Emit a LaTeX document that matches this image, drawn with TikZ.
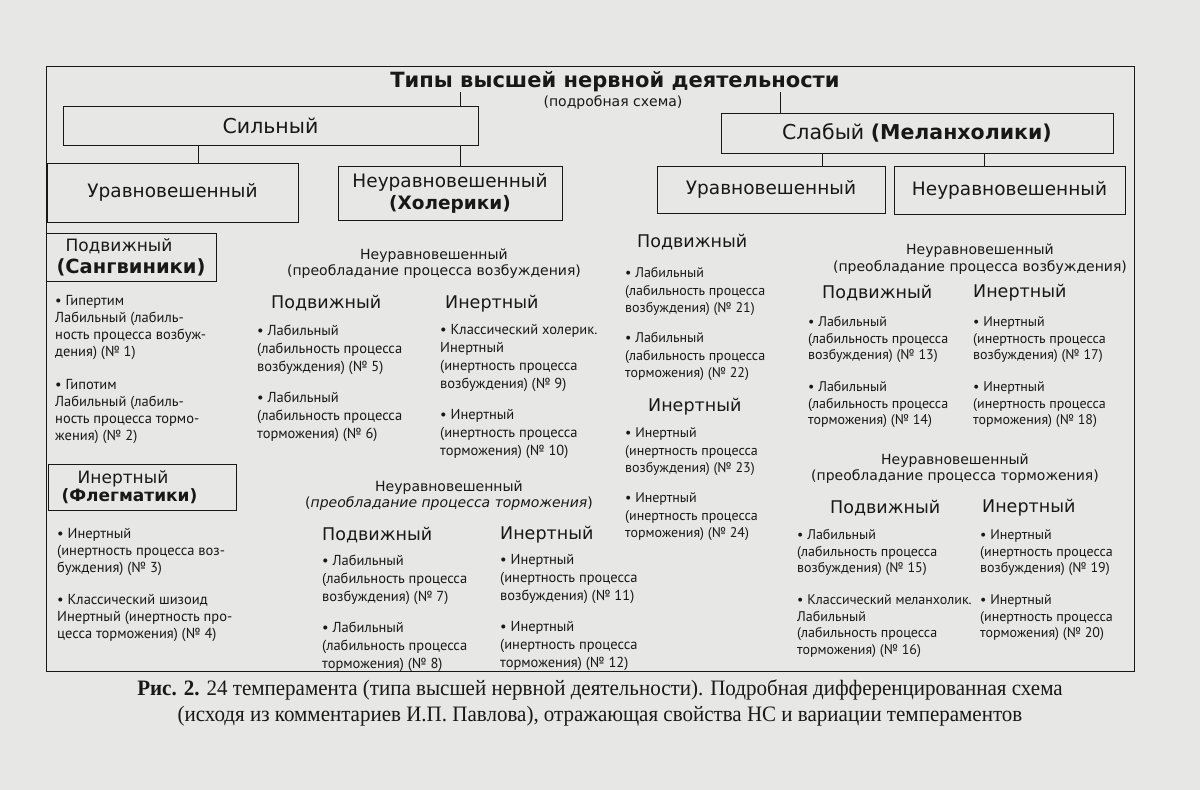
\documentclass[tikz,border=0pt]{standalone}
\usepackage{fontspec}
\usepackage{graphicx}
\setmainfont{DejaVu Sans}
\newfontfamily\hdrf{DejaVu Sans}
\newfontfamily\smf{PT Sans}
\newfontfamily\capf{Liberation Serif}
\definecolor{ink}{RGB}{24,24,24}
\definecolor{paper}{RGB}{231,231,229}
\begin{document}
\begin{tikzpicture}[x=1pt,y=-1pt,
 ln/.style={draw=ink,line width=1pt},
 bx/.style={draw=ink,line width=1pt,inner sep=0pt,align=center,text=ink,font=\hdrf\fontsize{18.5}{22}\selectfont},
 itm/.style={anchor=north west,inner sep=0pt,align=left,text=ink,font=\smf\fontsize{14}{17.5}\selectfont},
 itmL/.style={itm,font=\smf\fontsize{14.5}{16.8}\selectfont},
 itmM/.style={itm,font=\smf\fontsize{14.5}{18}\selectfont},
 itmR/.style={itm,font=\smf\fontsize{14}{16.5}\selectfont},
 hd/.style={anchor=west,inner sep=0pt,text=ink,font=\hdrf\fontsize{17.5}{20}\selectfont},
 sub/.style={inner sep=0pt,align=center,text=ink,font=\hdrf\fontsize{14}{16.5}\selectfont}]
\useasboundingbox (0,0) rectangle (1200,790);
\fill[paper] (0,0) rectangle (1200,790);
\draw[ln] (46,66) rectangle (1134,671);

% title
\node[inner sep=0pt,text=ink,font=\hdrf\bfseries\fontsize{21}{25}\selectfont] (tt) at (615,82) {Типы высшей нервной деятельности};
\node[inner sep=0pt,text=ink,font=\hdrf\fontsize{14}{17}\selectfont] (st) at (613,103) {(подробная схема)};

% main boxes
\node[bx,font=\hdrf\fontsize{20.5}{24}\selectfont,minimum width=415,minimum height=39] (sil) at (270.5,125.5) {Сильный};
\node[bx,minimum width=251,minimum height=59] (urv) at (172.5,192.5) {Уравновешенный};
\node[bx,minimum width=224,minimum height=54] (nur) at (450,193) {Неуравновешенный\\\textbf{(Холерики)}};
\node[bx,font=\hdrf\fontsize{20.5}{24}\selectfont,minimum width=392,minimum height=40] (slb) at (917,133) {Слабый \textbf{(Меланхолики)}};
\node[bx,minimum width=228,minimum height=47] (wurv) at (771,189.5) {Уравновешенный};
\node[bx,minimum width=231,minimum height=48] (wnur) at (1009.5,190) {Неуравновешенный};
\node[bx,font=\hdrf\fontsize{17}{22}\selectfont,minimum width=170,minimum height=48] (sang) at (131,257) {Подвижный\hspace*{24pt}\\{\fontsize{19.5}{22}\selectfont\bfseries (Сангвиники)}};
\node[bx,font=\hdrf\fontsize{17}{18}\selectfont,minimum width=188,minimum height=46] (fleg) at (142,487) {Инертный\hspace*{38pt}\\\textbf{(Флегматики)}\hspace*{25pt}};

% connectors
\coordinate (c0) at (460,0);
\coordinate (c1) at (198,0);
\coordinate (c3) at (780,0);
\coordinate (c4) at (822,0);
\coordinate (c5) at (984,0);
\draw[ln] (tt.south -| c0) -- (sil.north -| c0);
\draw[ln] (sil.south -| c1) -- (urv.north -| c1);
\draw[ln] (sil.south -| c0) -- (nur.north -| c0);
\draw[ln] (tt.south -| c3) -- (slb.north -| c3);
\draw[ln] (slb.south -| c4) -- (wurv.north -| c4);
\draw[ln] (slb.south -| c5) -- (wnur.north -| c5);

% left column
\node[itmL] (l1) at (55,295.5) {• Гипертим\\Лабильный (лабиль-\\ность процесса возбуж-\\дения) (№ 1)};
\node[itmL] (l2) at (55,379.5) {• Гипотим\\Лабильный (лабиль-\\ность процесса тормо-\\жения) (№ 2)};
\node[itmL] (l3) at (57,528.5) {• Инертный\\(инертность процесса воз-\\буждения) (№ 3)};
\node[itmL] (l4) at (57,594.5) {• Классический шизоид\\Инертный (инертность про-\\цесса торможения) (№ 4)};

% middle block 1
\node[sub] (s1) at (434,263.5) {Неуравновешенный\\(преобладание процесса возбуждения)};
\node[hd] (h1) at (271,303) {Подвижный};
\node[hd] (h2) at (445,304) {Инертный};
\node[itmM] (m1) at (257,324.5) {• Лабильный\\(лабильность процесса\\возбуждения) (№ 5)};
\node[itmM] (m2) at (257,391.5) {• Лабильный\\(лабильность процесса\\торможения) (№ 6)};
\node[itmM] (m3) at (440,324.5) {• Классический холерик.\\Инертный\\(инертность процесса\\возбуждения) (№ 9)};
\node[itmM] (m4) at (440,409.5) {• Инертный\\(инертность процесса\\торможения) (№ 10)};

% middle block 2
\node[sub,font=\hdrf\fontsize{14}{15.5}\selectfont] (s2) at (449,495.5) {Неуравновешенный\\(\textit{преобладание процесса торможения})};
\node[hd] (h3) at (322,535) {Подвижный};
\node[hd] (h4) at (500,535) {Инертный};
\node[itmM] (m5) at (322,554.5) {• Лабильный\\(лабильность процесса\\возбуждения) (№ 7)};
\node[itmM] (m6) at (322,621.5) {• Лабильный\\(лабильность процесса\\торможения) (№ 8)};
\node[itmM] (m7) at (500,554.5) {• Инертный\\(инертность процесса\\возбуждения) (№ 11)};
\node[itmM] (m8) at (500,621.5) {• Инертный\\(инертность процесса\\торможения) (№ 12)};

% weak balanced column
\node[hd] (h5) at (637,242) {Подвижный};
\node[hd] (h6) at (648,407) {Инертный};
\node[itm] (w1) at (625,267.5) {• Лабильный\\(лабильность процесса\\возбуждения) (№ 21)};
\node[itm] (w2) at (625,332.5) {• Лабильный\\(лабильность процесса\\торможения) (№ 22)};
\node[itm] (w3) at (625,427.5) {• Инертный\\(инертность процесса\\возбуждения) (№ 23)};
\node[itm] (w4) at (625,492.5) {• Инертный\\(инертность процесса\\торможения) (№ 24)};

% weak unbalanced block 1
\node[sub] (s3) at (980,259) {Неуравновешенный\\(преобладание процесса возбуждения)};
\node[hd] (h7) at (822,293) {Подвижный};
\node[hd] (h8) at (973,293) {Инертный};
\node[itmR] (n1) at (808,316.5) {• Лабильный\\(лабильность процесса\\возбуждения) (№ 13)};
\node[itmR] (n2) at (808,381.5) {• Лабильный\\(лабильность процесса\\торможения) (№ 14)};
\node[itmR] (n3) at (973,316.5) {• Инертный\\(инертность процесса\\возбуждения) (№ 17)};
\node[itmR] (n4) at (973,381.5) {• Инертный\\(инертность процесса\\торможения) (№ 18)};

% weak unbalanced block 2
\node[sub] (s4) at (955,468.5) {Неуравновешенный\\(преобладание процесса торможения)};
\node[hd] (h9) at (830,508) {Подвижный};
\node[hd] (h10) at (982,508) {Инертный};
\node[itmR] (n5) at (797,529.5) {• Лабильный\\(лабильность процесса\\возбуждения) (№ 15)};
\node[itmR] (n6) at (797,594.5) {• Классический меланхолик.\\Лабильный\\(лабильность процесса\\торможения) (№ 16)};
\node[itmR] (n7) at (980,529.5) {• Инертный\\(инертность процесса\\возбуждения) (№ 19)};
\node[itmR] (n8) at (980,594.5) {• Инертный\\(инертность процесса\\торможения) (№ 20)};

% caption
\node[inner sep=0pt,align=center,text=ink,font=\capf\fontsize{22}{26}\selectfont] (cap) at (600,703) {\scalebox{0.955}[1]{\textbf{Рис. 2.} 24 темперамента (типа высшей нервной деятельности). Подробная дифференцированная схема}\\\scalebox{0.955}[1]{(исходя из комментариев И.П. Павлова), отражающая свойства НС и вариации темпераментов}};
\end{tikzpicture}
\end{document}
